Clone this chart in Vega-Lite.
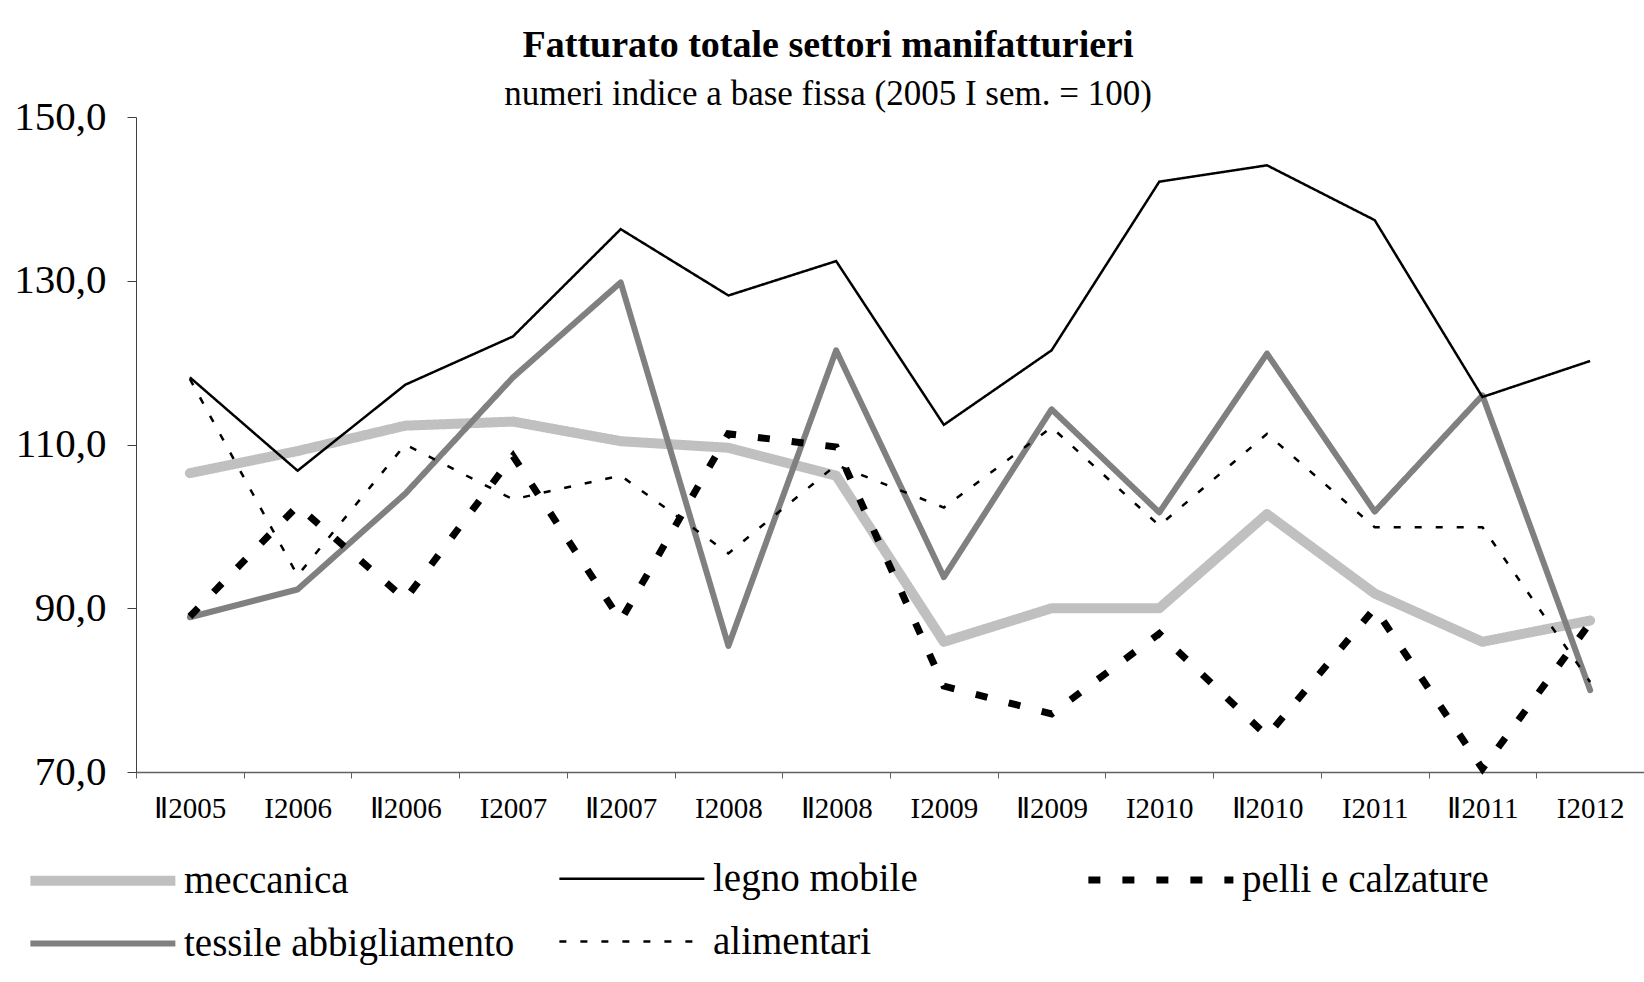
{
  "$schema": "https://vega.github.io/schema/vega-lite/v6.json",
  "width": 1508,
  "height": 655,
  "autosize": {"type": "none"},
  "padding": {"left": 136, "top": 117, "right": 0, "bottom": 210},
  "background": "white",
  "title": {
    "text": "Fatturato totale settori manifatturieri",
    "subtitle": "numeri indice a base fissa (2005 I sem. = 100)",
    "anchor": "middle",
    "dx": -62,
    "offset": -16,
    "font": "Liberation Serif",
    "fontSize": 38,
    "fontWeight": "bold",
    "color": "black",
    "subtitleFont": "Liberation Serif",
    "subtitleFontSize": 35,
    "subtitleColor": "black",
    "subtitlePadding": 12
  },
  "data": {"values": [
    {"periodo": "Ⅱ2005", "settore": "meccanica", "valore": 106.5},
    {"periodo": "I2006", "settore": "meccanica", "valore": 109.2},
    {"periodo": "Ⅱ2006", "settore": "meccanica", "valore": 112.3},
    {"periodo": "I2007", "settore": "meccanica", "valore": 112.8},
    {"periodo": "Ⅱ2007", "settore": "meccanica", "valore": 110.4},
    {"periodo": "I2008", "settore": "meccanica", "valore": 109.6},
    {"periodo": "Ⅱ2008", "settore": "meccanica", "valore": 106.2},
    {"periodo": "I2009", "settore": "meccanica", "valore": 85.9},
    {"periodo": "Ⅱ2009", "settore": "meccanica", "valore": 90.0},
    {"periodo": "I2010", "settore": "meccanica", "valore": 90.0},
    {"periodo": "Ⅱ2010", "settore": "meccanica", "valore": 101.5},
    {"periodo": "I2011", "settore": "meccanica", "valore": 91.8},
    {"periodo": "Ⅱ2011", "settore": "meccanica", "valore": 85.9},
    {"periodo": "I2012", "settore": "meccanica", "valore": 88.5},
    {"periodo": "Ⅱ2005", "settore": "legno mobile", "valore": 118.2},
    {"periodo": "I2006", "settore": "legno mobile", "valore": 106.8},
    {"periodo": "Ⅱ2006", "settore": "legno mobile", "valore": 117.3},
    {"periodo": "I2007", "settore": "legno mobile", "valore": 123.2},
    {"periodo": "Ⅱ2007", "settore": "legno mobile", "valore": 136.3},
    {"periodo": "I2008", "settore": "legno mobile", "valore": 128.2},
    {"periodo": "Ⅱ2008", "settore": "legno mobile", "valore": 132.4},
    {"periodo": "I2009", "settore": "legno mobile", "valore": 112.4},
    {"periodo": "Ⅱ2009", "settore": "legno mobile", "valore": 121.5},
    {"periodo": "I2010", "settore": "legno mobile", "valore": 142.1},
    {"periodo": "Ⅱ2010", "settore": "legno mobile", "valore": 144.1},
    {"periodo": "I2011", "settore": "legno mobile", "valore": 137.4},
    {"periodo": "Ⅱ2011", "settore": "legno mobile", "valore": 115.8},
    {"periodo": "I2012", "settore": "legno mobile", "valore": 120.2},
    {"periodo": "Ⅱ2005", "settore": "pelli e calzature", "valore": 89.0},
    {"periodo": "I2006", "settore": "pelli e calzature", "valore": 102.5},
    {"periodo": "Ⅱ2006", "settore": "pelli e calzature", "valore": 91.1},
    {"periodo": "I2007", "settore": "pelli e calzature", "valore": 108.6},
    {"periodo": "Ⅱ2007", "settore": "pelli e calzature", "valore": 88.5},
    {"periodo": "I2008", "settore": "pelli e calzature", "valore": 111.3},
    {"periodo": "Ⅱ2008", "settore": "pelli e calzature", "valore": 109.7},
    {"periodo": "I2009", "settore": "pelli e calzature", "valore": 80.5},
    {"periodo": "Ⅱ2009", "settore": "pelli e calzature", "valore": 77.1},
    {"periodo": "I2010", "settore": "pelli e calzature", "valore": 86.9},
    {"periodo": "Ⅱ2010", "settore": "pelli e calzature", "valore": 74.4},
    {"periodo": "I2011", "settore": "pelli e calzature", "valore": 90.0},
    {"periodo": "Ⅱ2011", "settore": "pelli e calzature", "valore": 70.4},
    {"periodo": "I2012", "settore": "pelli e calzature", "valore": 88.2},
    {"periodo": "Ⅱ2005", "settore": "tessile abbigliamento", "valore": 88.9},
    {"periodo": "I2006", "settore": "tessile abbigliamento", "valore": 92.3},
    {"periodo": "Ⅱ2006", "settore": "tessile abbigliamento", "valore": 104.0},
    {"periodo": "I2007", "settore": "tessile abbigliamento", "valore": 118.2},
    {"periodo": "Ⅱ2007", "settore": "tessile abbigliamento", "valore": 129.8},
    {"periodo": "I2008", "settore": "tessile abbigliamento", "valore": 85.4},
    {"periodo": "Ⅱ2008", "settore": "tessile abbigliamento", "valore": 121.5},
    {"periodo": "I2009", "settore": "tessile abbigliamento", "valore": 93.8},
    {"periodo": "Ⅱ2009", "settore": "tessile abbigliamento", "valore": 114.3},
    {"periodo": "I2010", "settore": "tessile abbigliamento", "valore": 101.7},
    {"periodo": "Ⅱ2010", "settore": "tessile abbigliamento", "valore": 121.1},
    {"periodo": "I2011", "settore": "tessile abbigliamento", "valore": 101.8},
    {"periodo": "Ⅱ2011", "settore": "tessile abbigliamento", "valore": 116.0},
    {"periodo": "I2012", "settore": "tessile abbigliamento", "valore": 80.0},
    {"periodo": "Ⅱ2005", "settore": "alimentari", "valore": 118.0},
    {"periodo": "I2006", "settore": "alimentari", "valore": 94.0},
    {"periodo": "Ⅱ2006", "settore": "alimentari", "valore": 110.0},
    {"periodo": "I2007", "settore": "alimentari", "valore": 103.3},
    {"periodo": "Ⅱ2007", "settore": "alimentari", "valore": 106.2},
    {"periodo": "I2008", "settore": "alimentari", "valore": 96.7},
    {"periodo": "Ⅱ2008", "settore": "alimentari", "valore": 107.5},
    {"periodo": "I2009", "settore": "alimentari", "valore": 102.3},
    {"periodo": "Ⅱ2009", "settore": "alimentari", "valore": 112.1},
    {"periodo": "I2010", "settore": "alimentari", "valore": 100.1},
    {"periodo": "Ⅱ2010", "settore": "alimentari", "valore": 111.3},
    {"periodo": "I2011", "settore": "alimentari", "valore": 99.9},
    {"periodo": "Ⅱ2011", "settore": "alimentari", "valore": 99.9},
    {"periodo": "I2012", "settore": "alimentari", "valore": 81.0}
  ]},
  "encoding": {
    "x": {
      "field": "periodo", "type": "nominal",
      "sort": ["Ⅱ2005","I2006","Ⅱ2006","I2007","Ⅱ2007","I2008","Ⅱ2008","I2009","Ⅱ2009","I2010","Ⅱ2010","I2011","Ⅱ2011","I2012"],
      "scale": {"type": "band", "paddingInner": 0, "paddingOuter": 0},
      "axis": {
        "title": null, "tickBand": "extent", "labelAngle": 0,
        "labelFont": "Liberation Serif", "labelFontSize": 29, "labelColor": "black",
        "tickSize": 6, "tickColor": "#606060", "domainColor": "#606060", "domainWidth": 1.5,
        "labelPadding": 16, "grid": false
      }
    },
    "y": {
      "field": "valore", "type": "quantitative",
      "scale": {"domain": [70, 150], "nice": false, "zero": false},
      "axis": {
        "title": null, "values": [70, 90, 110, 130, 150],
        "labelExpr": "replace(format(datum.value, '.1f'), '.', ',')",
        "labelFont": "Liberation Serif", "labelFontSize": 41, "labelColor": "black",
        "tickSize": 9, "tickColor": "#404040", "domainColor": "#404040",
        "labelPadding": 21, "grid": false
      }
    },
    "color": {
      "field": "settore", "type": "nominal",
      "scale": {
        "domain": ["meccanica", "legno mobile", "pelli e calzature", "tessile abbigliamento", "alimentari"],
        "range": ["#c0c0c0", "#000000", "#000000", "#808080", "#000000"]
      },
      "legend": {
        "title": null, "orient": "none", "legendX": -111, "legendY": 740,
        "direction": "horizontal", "columns": 3, "gridAlign": "all",
        "columnPadding": 30, "rowPadding": 21,
        "symbolType": "M-1,0H7", "symbolSize": 1314,
        "labelFont": "Liberation Serif", "labelFontSize": 39, "labelColor": "black",
        "labelOffset": 112, "labelLimit": 0
      }
    },
    "strokeWidth": {
      "field": "settore", "type": "nominal",
      "scale": {
        "type": "ordinal",
        "domain": ["meccanica", "legno mobile", "pelli e calzature", "tessile abbigliamento", "alimentari"],
        "range": [10, 2.5, 7, 6, 2.5]
      }
    },
    "strokeDash": {
      "field": "settore", "type": "nominal",
      "scale": {
        "domain": ["meccanica", "legno mobile", "pelli e calzature", "tessile abbigliamento", "alimentari"],
        "range": [[1, 0], [1, 0], [12, 22], [1, 0], [7, 14]]
      }
    }
  },
  "layer": [
    {
      "transform": [{"filter": {"field": "settore", "oneOf": ["meccanica", "tessile abbigliamento"]}}],
      "mark": {"type": "line", "strokeCap": "round", "strokeJoin": "round"}
    },
    {
      "transform": [{"filter": {"field": "settore", "oneOf": ["legno mobile", "pelli e calzature", "alimentari"]}}],
      "mark": {"type": "line", "strokeJoin": "miter"}
    }
  ],
  "config": {
    "view": {"stroke": null},
    "font": "Liberation Serif"
  }
}
